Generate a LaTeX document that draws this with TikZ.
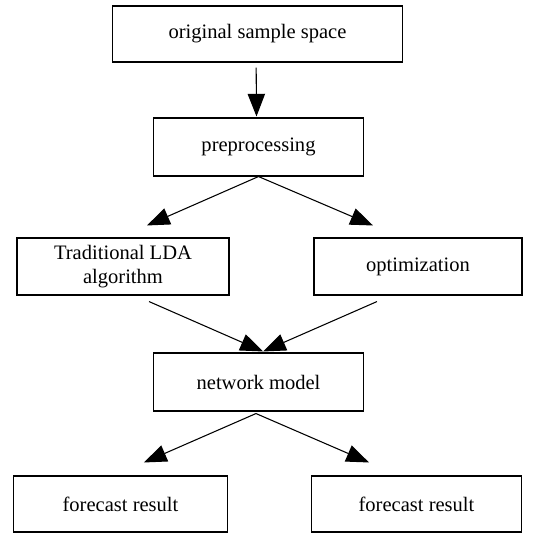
\documentclass[tikz,border=0pt]{standalone}
\usepackage{fontspec}
\setmainfont{Liberation Serif}
\usetikzlibrary{arrows.meta}

\tikzset{every picture/.style={line width=0.75pt}}
\tikzset{
  flowbox/.style={draw, line width=0.8pt, rectangle, align=center, inner sep=0pt,
    font=\fontsize{15.4}{18.5}\selectfont},
  flowarrow/.style={-{Triangle[length=17pt,width=13pt]}, line width=0.8pt}
}

\begin{document}
\begin{tikzpicture}[x=0.75pt,y=0.75pt,yscale=-1,xscale=1]
	\path (0,0) rectangle (541,533);

	% Boxes
	\node [flowbox, minimum width=218pt, minimum height=42pt] (orig) at (257.5,34) {original sample space};
	\node [flowbox, minimum width=158pt, minimum height=43.5pt] (pre) at (258.5,147) {preprocessing};
	\node [flowbox, minimum width=159pt, minimum height=42.75pt] (lda) at (123,266.5) {Traditional LDA\\algorithm};
	\node [flowbox, minimum width=156pt, minimum height=42.75pt] (opt) at (418,266.5) {optimization};
	\node [flowbox, minimum width=158pt, minimum height=43.5pt] (net) at (258.5,382) {network model};
	\node [flowbox, minimum width=160pt, minimum height=42pt] (resl) at (120.5,504) {forecast result};
	\node [flowbox, minimum width=158pt, minimum height=42pt] (resr) at (416.5,504) {forecast result};

	% Arrows
	\draw [flowarrow] ([xshift=-1pt,yshift=3.75pt]orig.south) -- ([xshift=-1.5pt,yshift=-0.75pt]pre.north);
	\draw [flowarrow] (pre.south) -- ([xshift=18pt,yshift=-9pt]lda.north);
	\draw [flowarrow] (pre.south) -- ([xshift=-33.75pt,yshift=-9pt]opt.north);
	\draw [flowarrow] ([xshift=19.5pt,yshift=4.5pt]lda.south) -- ([xshift=3.4pt,yshift=-0.75pt]net.north);
	\draw [flowarrow] ([xshift=-30.75pt,yshift=4.5pt]opt.south) -- ([xshift=3.4pt,yshift=-0.75pt]net.north);
	\draw [flowarrow] ([xshift=-1.9pt,yshift=1.5pt]net.south) -- ([xshift=17.6pt,yshift=-9.75pt]resl.north);
	\draw [flowarrow] ([xshift=-1.9pt,yshift=1.5pt]net.south) -- ([xshift=-35.6pt,yshift=-9.75pt]resr.north);

\end{tikzpicture}
\end{document}
